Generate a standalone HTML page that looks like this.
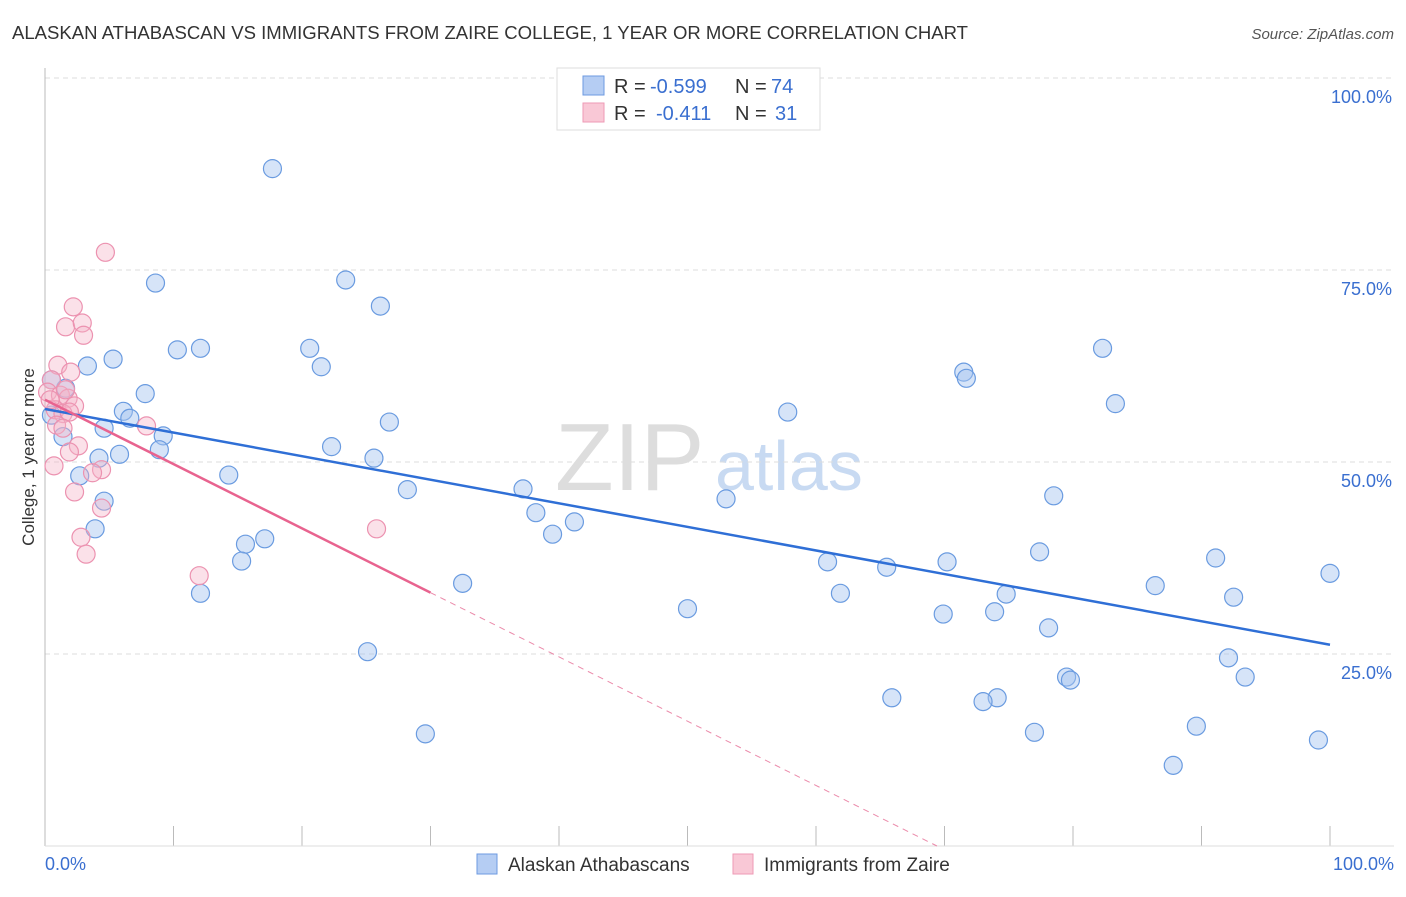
<!DOCTYPE html>
<html><head><meta charset="utf-8"><style>
body{margin:0;background:#fff;font-family:"Liberation Sans",sans-serif}
svg text{font-family:"Liberation Sans",sans-serif}
</style></head><body>
<svg id="chart" width="1406" height="892" xmlns="http://www.w3.org/2000/svg">
<text x="12" y="39" font-size="18" fill="#333" textLength="956" lengthAdjust="spacingAndGlyphs">ALASKAN ATHABASCAN VS IMMIGRANTS FROM ZAIRE COLLEGE, 1 YEAR OR MORE CORRELATION CHART</text>
<text x="1394" y="39" font-size="15" fill="#555" font-style="italic" text-anchor="end">Source: ZipAtlas.com</text>
<g>
<text x="555" y="490" font-size="96" fill="#ddd" font-family="Liberation Serif,serif">ZIP</text>
<text x="715" y="490" font-size="70" fill="#c8daf2">atlas</text>
</g>
<g id="grid"></g>
<g id="ticks"></g>
<line x1="45" y1="68" x2="45" y2="846" stroke="#bbb"/>
<line x1="45" y1="846" x2="1394" y2="846" stroke="#ddd"/>
<text transform="translate(34,457) rotate(-90)" font-size="17" fill="#333" text-anchor="middle">College, 1 year or more</text>
<text x="45" y="870" font-size="18" fill="#3a6fd0">0.0%</text>
<text x="1394" y="870" font-size="18" fill="#3a6fd0" text-anchor="end">100.0%</text>
<g id="pts"></g>
<g id="lines"></g>
<g>
<rect x="557" y="68" width="263" height="62" fill="#fff" stroke="#ddd"/>
<rect x="583" y="76" width="21" height="19" fill="#b5cdf3" stroke="#6d9ae0"/>
<rect x="583" y="103" width="21" height="19" fill="#f9c8d6" stroke="#ee9ab5"/>
<text y="93" font-size="20" fill="#333"><tspan x="614">R =</tspan><tspan x="650" fill="#3a6fd0">-0.599</tspan><tspan x="735">N =</tspan><tspan x="771" fill="#3a6fd0">74</tspan></text>
<text y="120" font-size="20" fill="#333"><tspan x="614">R =</tspan><tspan x="656" fill="#3a6fd0">-0.411</tspan><tspan x="735">N =</tspan><tspan x="775" fill="#3a6fd0">31</tspan></text>
</g>
<g>
<rect x="477" y="854" width="20" height="20" fill="#b5cdf3" stroke="#6d9ae0"/>
<text x="508" y="871" font-size="19" fill="#333">Alaskan Athabascans</text>
<rect x="733" y="854" width="20" height="20" fill="#f9c8d6" stroke="#ee9ab5"/>
<text x="764" y="871" font-size="19" fill="#333">Immigrants from Zaire</text>
</g>
</svg>
<script>
const yTicks=[25,50,75,100];
const yTickLabels=["25.0%","50.0%","75.0%","100.0%"];
const xTicks=[10,20,30,40,50,60,70,80,90,100];
const blueX=[17.7,8.6,23.4,26.1,10.3,12.1,20.6,21.5,5.3,3.3,1.6,7.8,6.1,6.6,26.8,0.5,4.6,1.4,9.2,8.9,22.3,5.8,4.2,25.6,2.7,14.3,28.2,4.6,37.2,3.9,38.2,41.2,39.5,15.6,17.1,15.3,12.1,32.5,25.1,29.6,50.0,53.0,57.8,60.9,61.9,65.5,65.9,69.9,70.2,71.5,71.7,73.9,74.8,74.1,73.0,77.0,77.4,78.1,78.5,79.5,79.8,82.3,83.3,86.4,87.8,89.6,91.1,92.1,92.5,93.4,99.1,100.0,0.5];
const blueY=[88.2,73.3,73.7,70.3,64.6,64.8,64.8,62.4,63.4,62.5,59.6,58.9,56.6,55.7,55.2,56.1,54.4,53.3,53.4,51.6,52.0,51.0,50.5,50.5,48.2,48.3,46.4,44.9,46.5,41.3,43.4,42.2,40.6,39.3,40.0,37.1,32.9,34.2,25.3,14.6,30.9,45.2,56.5,37.0,32.9,36.3,19.3,30.2,37.0,61.7,60.9,30.5,32.8,19.3,18.8,14.8,38.3,28.4,45.6,22.0,21.6,64.8,57.6,33.9,10.5,15.6,37.5,24.5,32.4,22.0,13.8,35.5,60.7];
const pinkX=[4.7,2.2,1.6,2.9,3.0,1.0,2.0,0.5,0.2,1.2,1.8,2.3,0.8,1.4,1.9,0.9,1.4,7.9,2.6,1.9,0.7,4.4,3.7,2.3,4.4,2.8,3.2,12.0,25.8,0.4,1.6];
const pinkY=[77.3,70.2,67.6,68.1,66.5,62.6,61.7,60.7,59.1,58.7,58.3,57.3,56.8,56.3,56.5,54.8,54.4,54.7,52.1,51.3,49.5,49.0,48.6,46.1,44.0,40.2,38.0,35.2,41.3,58.1,59.4];
const blueTrend=[56.9,26.2];
const pinkTrend=[58.1,-0.837];
const NS="http://www.w3.org/2000/svg";
const sx=v=>45+v*12.85, sy=v=>846-v*7.68;
function mk(t,a,p){const e=document.createElementNS(NS,t);for(const k in a)e.setAttribute(k,a[k]);document.getElementById(p).appendChild(e);return e;}
yTicks.forEach((t,i)=>{
 const g=mk('line',{x1:45,x2:1394,y1:sy(t),y2:sy(t),stroke:'#ddd','stroke-dasharray':'5,4'},'grid');
 
 
 const l=mk('text',{x:1392,y:sy(t)+25,'font-size':18,fill:'#3a6fd0','text-anchor':'end'},'grid');
 l.textContent=yTickLabels[i];
 
 
});
xTicks.forEach(t=>{
 const e=mk('line',{x1:sx(t),x2:sx(t),y1:826,y2:846,stroke:'#bbb'},'ticks');
 
 
});
blueX.forEach((x,i)=>{
 const c=mk('circle',{cx:sx(x),cy:sy(blueY[i]),r:9,fill:'rgba(164,196,240,0.45)',stroke:'#6a9be0','stroke-width':1.2},'pts');
 
 
});
pinkX.forEach((x,i)=>{
 const c=mk('circle',{cx:sx(x),cy:sy(pinkY[i]),r:9,fill:'rgba(246,180,200,0.4)',stroke:'#ec92b0','stroke-width':1.2},'pts');
 
 
});
const bl=mk('line',{x1:sx(0),y1:sy(blueTrend[0]),x2:sx(100),y2:sy(blueTrend[1]),stroke:'#2f6fd6','stroke-width':2.5},'lines');


const pe=30, pz=-pinkTrend[0]/pinkTrend[1];
const pl=mk('line',{x1:sx(0),y1:sy(pinkTrend[0]),x2:sx(pe),y2:sy(pinkTrend[0]+pinkTrend[1]*pe),stroke:'#e8638f','stroke-width':2.5},'lines');


const pd=mk('line',{x1:sx(pe),y1:sy(pinkTrend[0]+pinkTrend[1]*pe),x2:sx(pz),y2:sy(0),stroke:'#eb8aaa','stroke-width':1,'stroke-dasharray':'6,5'},'lines');


</script>
</body></html>
